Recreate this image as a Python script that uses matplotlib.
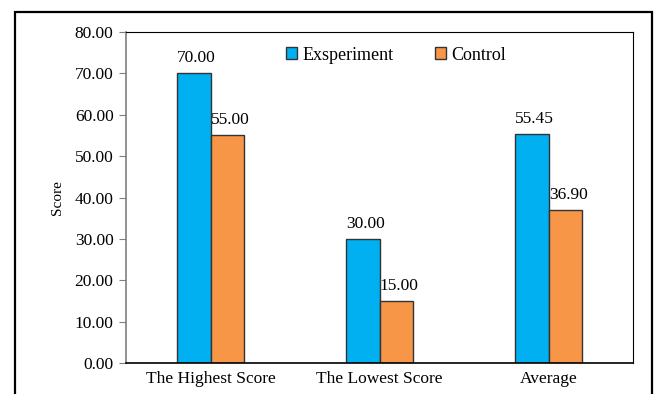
import matplotlib
matplotlib.use("Agg")
import matplotlib.pyplot as plt
import numpy as np
from matplotlib.patches import Rectangle

plt.rcParams['font.family'] = ['Liberation Serif', 'DejaVu Serif']

categories = ["The Highest Score", "The Lowest Score", "Average"]
experiment = [70.00, 30.00, 55.45]
control = [55.00, 15.00, 36.90]
yticks = [0, 10, 20, 30, 40, 50, 60, 70, 80]

C_EXP = "#00B0F0"
C_CTL = "#F79646"

fig = plt.figure(figsize=(6.57, 3.94), dpi=100)
ax = fig.add_axes([126/657, 1-363/394, 507/657, 331/394])

# outer chart border (bottom runs off the picture)
fig.patches.append(Rectangle((15/657, -0.05), 637/657, 1.05-12/394, transform=fig.transFigure,
                             fill=False, ec="black", lw=1.6))

x = np.arange(len(categories))
w = 0.2
b1 = ax.bar(x-w/2, experiment, w, color=C_EXP, ec="#333333", lw=1.0, label="Exsperiment")
b2 = ax.bar(x+w/2, control, w, color=C_CTL, ec="#333333", lw=1.0, label="Control")
for bars, vals in ((b1, experiment), (b2, control)):
    for r, v in zip(bars, vals):
        ax.annotate(f"{v:.2f}", (r.get_x()+r.get_width()/2, v), xytext=(2, 5),
                    textcoords="offset points", ha="center", va="bottom", fontsize=12.5)

ax.set_xlim(-0.5, 2.5)
ax.set_ylim(0, 80)
ax.set_yticks(yticks)
ax.set_yticklabels([f"{t:.2f}" for t in yticks], fontsize=12.5)
ax.set_xticks(x)
ax.set_xticklabels(categories, fontsize=12.5)
ax.tick_params(axis="x", length=0, pad=6)
ax.tick_params(axis="y", direction="out", length=5, color="#7f7f7f", pad=4)
ax.spines["left"].set_color("#7f7f7f")
for s in ("top", "right", "bottom"):
    ax.spines[s].set_color("black")
ax.spines["left"].set_linewidth(1.2)
ax.spines["bottom"].set_linewidth(1.2)
ax.spines["top"].set_linewidth(0.8)
ax.spines["right"].set_linewidth(0.8)
ax.set_ylabel("Score", fontsize=11, labelpad=8)

ax.legend(loc="upper center", bbox_to_anchor=(0.533, 1.005), ncol=2, frameon=False,
          fontsize=13, handlelength=0.6, handleheight=0.6, handletextpad=0.3, columnspacing=2.3)

fig.savefig("out.png", dpi=100)
